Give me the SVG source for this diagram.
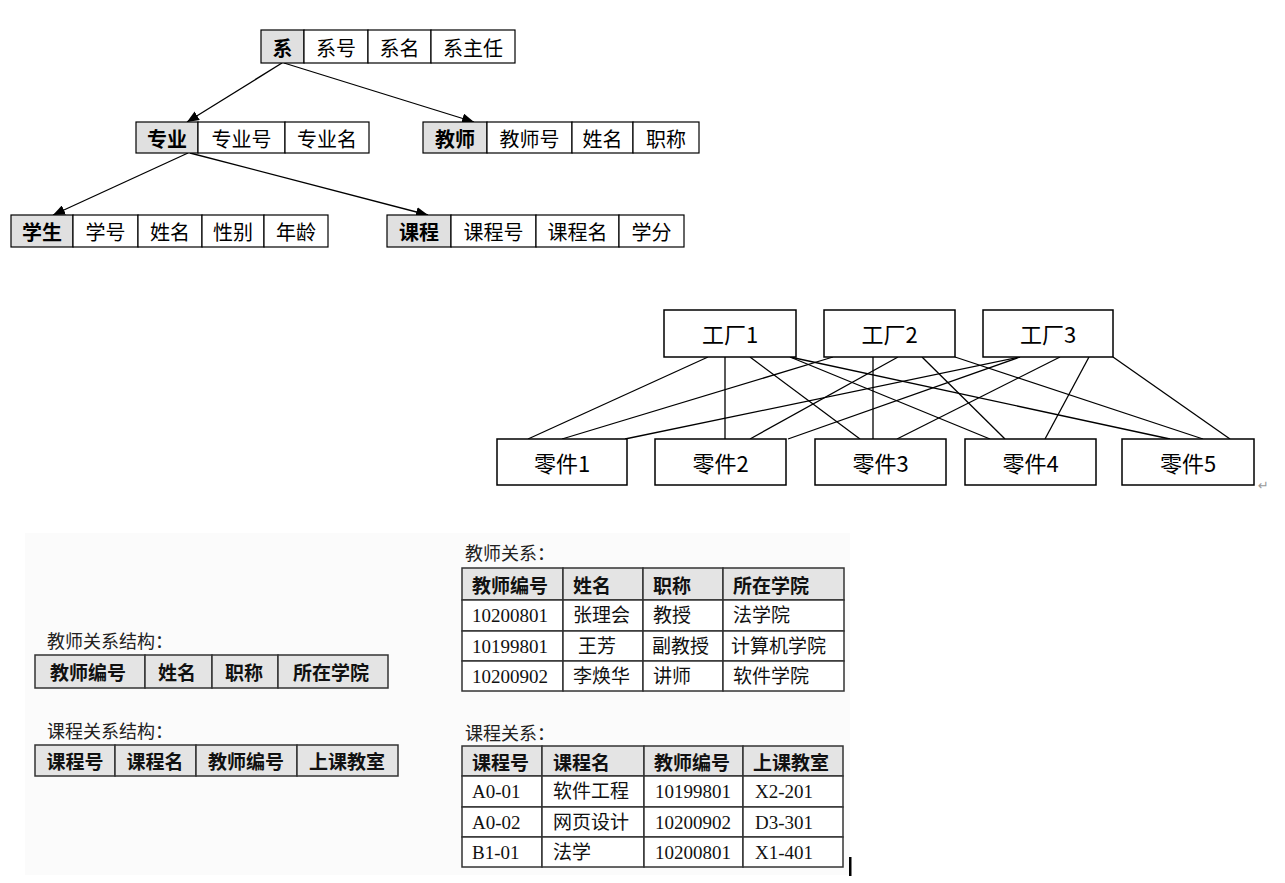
<svg xmlns="http://www.w3.org/2000/svg" width="1285" height="883" viewBox="0 0 1285 883">
<style>
.c{fill:#fff;stroke:#000;stroke-width:1.2}
.k{fill:#e0e0e0;stroke:#000;stroke-width:1.2}
.t{font-family:"Noto Sans CJK SC","Noto Sans",sans-serif;font-size:20px;fill:#000;text-anchor:middle;dominant-baseline:central}
.b{font-weight:bold}
.f{font-family:"Noto Sans CJK SC","Noto Sans",sans-serif;font-size:22px;fill:#000;text-anchor:middle;dominant-baseline:central}
.box{fill:#fff;stroke:#000;stroke-width:1.5}
.ln{stroke:#000;stroke-width:1.3;fill:none}
.ar{stroke:#000;stroke-width:1.3;fill:none;marker-end:url(#ah)}
.tc{fill:#fff;stroke:#333;stroke-width:1.5}
.th{fill:#e4e4e4;stroke:#333;stroke-width:1.5}
.hd{font-family:"Noto Sans CJK SC",sans-serif;font-size:19px;font-weight:bold;fill:#111;dominant-baseline:central}
.dt{font-family:"Liberation Serif","Noto Sans CJK SC",serif;font-size:19px;fill:#111;dominant-baseline:central}
.lb{font-family:"Noto Sans CJK SC",sans-serif;font-size:18px;fill:#222;dominant-baseline:central}
</style>
<defs>
<marker id="ah" viewBox="0 0 12 10" refX="12" refY="5" markerWidth="12" markerHeight="10" markerUnits="userSpaceOnUse" orient="auto">
<path d="M0,0 L12,5 L0,10 Z" fill="#000"/>
</marker>
</defs>
<rect width="1285" height="883" fill="#fff"/>

<g id="connectors">
<line class="ar" x1="282" y1="63" x2="187" y2="122"/>
<line class="ar" x1="284" y1="63" x2="474" y2="122"/>
<line class="ar" x1="188" y1="153" x2="53" y2="215"/>
<line class="ar" x1="190" y1="153" x2="428" y2="215"/>
<line class="ln" x1="708" y1="357" x2="528" y2="439"/>
<line class="ln" x1="725" y1="357" x2="725" y2="439"/>
<line class="ln" x1="750" y1="357" x2="860" y2="439"/>
<line class="ln" x1="790" y1="357" x2="990" y2="439"/>
<line class="ln" x1="790" y1="357" x2="1170" y2="439"/>
<line class="ln" x1="833" y1="357" x2="562" y2="439"/>
<line class="ln" x1="898" y1="357" x2="750" y2="439"/>
<line class="ln" x1="873" y1="357" x2="873" y2="439"/>
<line class="ln" x1="922" y1="357" x2="1005" y2="439"/>
<line class="ln" x1="955" y1="357" x2="1203" y2="439"/>
<line class="ln" x1="1020" y1="357" x2="625" y2="439"/>
<line class="ln" x1="1020" y1="357" x2="788" y2="439"/>
<line class="ln" x1="1060" y1="357" x2="897" y2="439"/>
<line class="ln" x1="1089" y1="357" x2="1045" y2="439"/>
<line class="ln" x1="1113" y1="357" x2="1230" y2="439"/>
</g>

<g id="node-xi">
<rect class="k" x="261" y="30" width="43" height="33"/>
<rect class="c" x="304" y="30" width="64" height="33"/>
<rect class="c" x="368" y="30" width="63" height="33"/>
<rect class="c" x="431" y="30" width="84" height="33"/>
<text class="t b" x="282.5" y="47">系</text>
<text class="t" x="336" y="47">系号</text>
<text class="t" x="399.5" y="47">系名</text>
<text class="t" x="473" y="47">系主任</text>
</g>

<g id="node-zhuanye">
<rect class="k" x="136" y="122" width="62" height="31"/>
<rect class="c" x="198" y="122" width="87" height="31"/>
<rect class="c" x="285" y="122" width="84" height="31"/>
<text class="t b" x="167" y="138">专业</text>
<text class="t" x="241.5" y="138">专业号</text>
<text class="t" x="327" y="138">专业名</text>
</g>

<g id="node-jiaoshi">
<rect class="k" x="423" y="122" width="64" height="31"/>
<rect class="c" x="487" y="122" width="85" height="31"/>
<rect class="c" x="572" y="122" width="61" height="31"/>
<rect class="c" x="633" y="122" width="66" height="31"/>
<text class="t b" x="455" y="138">教师</text>
<text class="t" x="529.5" y="138">教师号</text>
<text class="t" x="602.5" y="138">姓名</text>
<text class="t" x="666" y="138">职称</text>
</g>

<g id="node-xuesheng">
<rect class="k" x="11" y="215" width="62" height="32"/>
<rect class="c" x="73" y="215" width="65" height="32"/>
<rect class="c" x="138" y="215" width="64" height="32"/>
<rect class="c" x="202" y="215" width="62" height="32"/>
<rect class="c" x="264" y="215" width="64" height="32"/>
<text class="t b" x="42" y="231">学生</text>
<text class="t" x="105.5" y="231">学号</text>
<text class="t" x="170" y="231">姓名</text>
<text class="t" x="233" y="231">性别</text>
<text class="t" x="296" y="231">年龄</text>
</g>

<g id="node-kecheng">
<rect class="k" x="387" y="215" width="64" height="32"/>
<rect class="c" x="451" y="215" width="85" height="32"/>
<rect class="c" x="536" y="215" width="83" height="32"/>
<rect class="c" x="619" y="215" width="65" height="32"/>
<text class="t b" x="419" y="231">课程</text>
<text class="t" x="493.5" y="231">课程号</text>
<text class="t" x="577.5" y="231">课程名</text>
<text class="t" x="651.5" y="231">学分</text>
</g>

<g id="factory1"><rect class="box" x="664" y="310" width="132" height="47"/><text class="f" x="730" y="333">工厂1</text></g>
<g id="factory2"><rect class="box" x="824" y="310" width="131" height="47"/><text class="f" x="889.5" y="333">工厂2</text></g>
<g id="factory3"><rect class="box" x="983" y="310" width="130" height="47"/><text class="f" x="1048" y="333">工厂3</text></g>
<g id="part1"><rect class="box" x="497" y="439" width="130" height="46"/><text class="f" x="562" y="462">零件1</text></g>
<g id="part2"><rect class="box" x="655" y="439" width="131" height="46"/><text class="f" x="720.5" y="462">零件2</text></g>
<g id="part3"><rect class="box" x="815" y="439" width="131" height="46"/><text class="f" x="880.5" y="462">零件3</text></g>
<g id="part4"><rect class="box" x="965" y="439" width="131" height="46"/><text class="f" x="1030.5" y="462">零件4</text></g>
<g id="part5"><rect class="box" x="1122" y="439" width="132" height="46"/><text class="f" x="1188" y="462">零件5</text></g>
<text x="1258" y="490" font-family="DejaVu Sans,sans-serif" font-size="13" fill="#999">↵</text>

<rect x="25" y="533" width="825" height="342" fill="#fbfbfb"/>

<g id="teacher-structure">
<text class="lb" x="47" y="640">教师关系结构：</text>
<rect class="th" x="35" y="655" width="110" height="33"/>
<rect class="th" x="145" y="655" width="67" height="33"/>
<rect class="th" x="212" y="655" width="66" height="33"/>
<rect class="th" x="278" y="655" width="110" height="33"/>
<text class="hd" x="88" y="671" text-anchor="middle">教师编号</text>
<text class="hd" x="177" y="671" text-anchor="middle">姓名</text>
<text class="hd" x="244" y="671" text-anchor="middle">职称</text>
<text class="hd" x="331" y="671" text-anchor="middle">所在学院</text>
</g>

<g id="course-structure">
<text class="lb" x="47" y="730">课程关系结构：</text>
<rect class="th" x="35" y="745" width="80" height="31"/>
<rect class="th" x="115" y="745" width="81" height="31"/>
<rect class="th" x="196" y="745" width="101" height="31"/>
<rect class="th" x="297" y="745" width="101" height="31"/>
<text class="hd" x="75" y="760" text-anchor="middle">课程号</text>
<text class="hd" x="155" y="760" text-anchor="middle">课程名</text>
<text class="hd" x="246" y="760" text-anchor="middle">教师编号</text>
<text class="hd" x="347" y="760" text-anchor="middle">上课教室</text>
</g>

<g id="teacher-table">
<text class="lb" x="465" y="552">教师关系：</text>
<rect class="th" x="462" y="568" width="101" height="32"/><rect class="th" x="563" y="568" width="80" height="32"/><rect class="th" x="643" y="568" width="80" height="32"/><rect class="th" x="723" y="568" width="121" height="32"/>
<rect class="tc" x="462" y="600" width="101" height="31"/><rect class="tc" x="563" y="600" width="80" height="31"/><rect class="tc" x="643" y="600" width="80" height="31"/><rect class="tc" x="723" y="600" width="121" height="31"/>
<rect class="tc" x="462" y="631" width="101" height="30"/><rect class="tc" x="563" y="631" width="80" height="30"/><rect class="tc" x="643" y="631" width="80" height="30"/><rect class="tc" x="723" y="631" width="121" height="30"/>
<rect class="tc" x="462" y="661" width="101" height="30"/><rect class="tc" x="563" y="661" width="80" height="30"/><rect class="tc" x="643" y="661" width="80" height="30"/><rect class="tc" x="723" y="661" width="121" height="30"/>
<text class="hd" x="472" y="584">教师编号</text><text class="hd" x="573" y="584">姓名</text><text class="hd" x="653" y="584">职称</text><text class="hd" x="733" y="584">所在学院</text>
<text class="dt" x="472" y="615.5">10200801</text><text class="dt" x="573" y="615.5">张理会</text><text class="dt" x="653" y="615.5">教授</text><text class="dt" x="733" y="615.5">法学院</text>
<text class="dt" x="472" y="646">10199801</text><text class="dt" x="578" y="646">王芳</text><text class="dt" x="652" y="646">副教授</text><text class="dt" x="731" y="646">计算机学院</text>
<text class="dt" x="472" y="676">10200902</text><text class="dt" x="573" y="676">李焕华</text><text class="dt" x="653" y="676">讲师</text><text class="dt" x="733" y="676">软件学院</text>
</g>

<g id="course-table">
<text class="lb" x="465" y="732">课程关系：</text>
<rect class="th" x="462" y="746" width="80" height="30"/><rect class="th" x="542" y="746" width="102" height="30"/><rect class="th" x="644" y="746" width="99" height="30"/><rect class="th" x="743" y="746" width="100" height="30"/>
<rect class="tc" x="462" y="776" width="80" height="31"/><rect class="tc" x="542" y="776" width="102" height="31"/><rect class="tc" x="644" y="776" width="99" height="31"/><rect class="tc" x="743" y="776" width="100" height="31"/>
<rect class="tc" x="462" y="807" width="80" height="30"/><rect class="tc" x="542" y="807" width="102" height="30"/><rect class="tc" x="644" y="807" width="99" height="30"/><rect class="tc" x="743" y="807" width="100" height="30"/>
<rect class="tc" x="462" y="837" width="80" height="30"/><rect class="tc" x="542" y="837" width="102" height="30"/><rect class="tc" x="644" y="837" width="99" height="30"/><rect class="tc" x="743" y="837" width="100" height="30"/>
<text class="hd" x="472" y="761">课程号</text><text class="hd" x="553" y="761">课程名</text><text class="hd" x="654" y="761">教师编号</text><text class="hd" x="753" y="761">上课教室</text>
<text class="dt" x="472" y="791.5">A0-01</text><text class="dt" x="553" y="791.5">软件工程</text><text class="dt" x="655" y="791.5">10199801</text><text class="dt" x="755" y="791.5">X2-201</text>
<text class="dt" x="472" y="822">A0-02</text><text class="dt" x="553" y="822">网页设计</text><text class="dt" x="655" y="822">10200902</text><text class="dt" x="755" y="822">D3-301</text>
<text class="dt" x="472" y="852">B1-01</text><text class="dt" x="553" y="852">法学</text><text class="dt" x="655" y="852">10200801</text><text class="dt" x="755" y="852">X1-401</text>
</g>
<rect x="849" y="857" width="2.5" height="19" fill="#000"/>
</svg>
